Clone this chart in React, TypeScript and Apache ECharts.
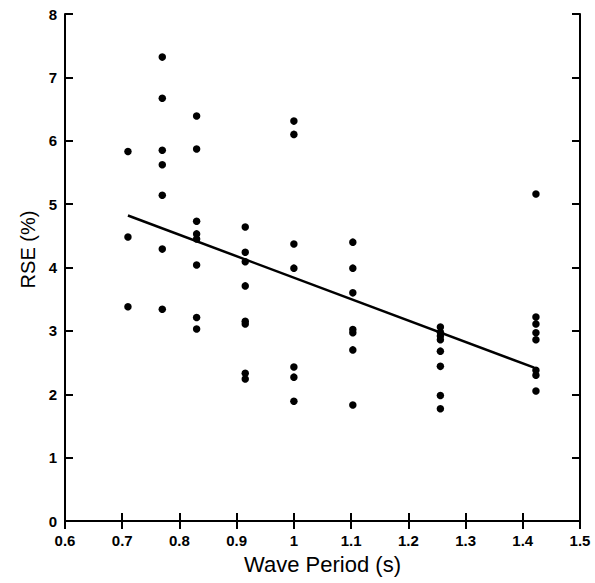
import React, { useEffect, useRef } from "react";
import * as echarts from "echarts";

const xTicks = [0.6, 0.7, 0.8, 0.9, 1, 1.1, 1.2, 1.3, 1.4, 1.5];
const pointsX = [
  0.71, 0.71, 0.71,
  0.77, 0.77, 0.77, 0.77, 0.77, 0.77, 0.77,
  0.83, 0.83, 0.83, 0.83, 0.83, 0.83, 0.83, 0.83,
  0.915, 0.915, 0.915, 0.915, 0.915, 0.915, 0.915, 0.915,
  1.0, 1.0, 1.0, 1.0, 1.0, 1.0, 1.0,
  1.103, 1.103, 1.103, 1.103, 1.103, 1.103, 1.103,
  1.256, 1.256, 1.256, 1.256, 1.256, 1.256, 1.256, 1.256,
  1.423, 1.423, 1.423, 1.423, 1.423, 1.423, 1.423, 1.423,
];
const pointsY = [
  5.83, 4.48, 3.38,
  7.32, 6.67, 5.85, 5.62, 5.14, 4.29, 3.34,
  6.39, 5.87, 4.73, 4.53, 4.45, 4.04, 3.21, 3.03,
  4.64, 4.24, 4.09, 3.71, 3.15, 3.11, 2.33, 2.24,
  6.31, 6.10, 4.37, 3.99, 2.43, 2.27, 1.89,
  4.40, 3.99, 3.60, 3.02, 2.97, 2.70, 1.83,
  3.06, 2.98, 2.92, 2.86, 2.68, 2.44, 1.98, 1.77,
  5.16, 3.22, 3.11, 2.97, 2.86, 2.38, 2.30, 2.05,
];
const fitX = [0.71, 1.42];
const fitY = [4.82, 2.42];

export default function App() {
  const ref = useRef<HTMLDivElement>(null);
  useEffect(() => {
    document.body.style.margin = "0";
    const chart = echarts.init(ref.current!, null, { renderer: "svg" });
    const font = "'Liberation Sans', Arial, sans-serif";
    const axisLine = () => ({ show: true, lineStyle: { color: "#000", width: 2 } });
    const tick = () => ({ show: true, inside: true, length: 8, lineStyle: { color: "#000", width: 2 } });
    chart.setOption({
      animation: false,
      backgroundColor: "#fff",
      grid: { left: 65, right: 15, top: 14, bottom: 62 },
      xAxis: [
        {
          type: "value",
          min: 0.6,
          max: 1.5,
          interval: 0.1,
          name: "Wave Period (s)",
          nameLocation: "middle",
          nameGap: 32,
          nameTextStyle: { fontFamily: font, fontSize: 22, color: "#000" },
          axisLine: axisLine(),
          axisTick: tick(),
          splitLine: { show: false },
          axisLabel: {
            fontFamily: font,
            fontSize: 15,
            fontWeight: "bold",
            color: "#000",
            margin: 12,
            formatter: (v: number) => {
              const t = xTicks.find((x) => Math.abs(x - v) < 1e-6);
              return t === undefined ? "" : String(t);
            },
          },
        },
        {
          type: "value",
          position: "top",
          min: 0.6,
          max: 1.5,
          interval: 0.1,
          axisLine: axisLine(),
          axisTick: tick(),
          axisLabel: { show: false },
          splitLine: { show: false },
        },
      ],
      yAxis: [
        {
          type: "value",
          min: 0,
          max: 8,
          interval: 1,
          name: "RSE (%)",
          nameLocation: "middle",
          nameGap: 22,
          nameTextStyle: { fontFamily: font, fontSize: 20, color: "#000", padding: [0, 0, 0, 36] },
          axisLine: axisLine(),
          axisTick: tick(),
          splitLine: { show: false },
          axisLabel: { fontFamily: font, fontSize: 15, fontWeight: "bold", color: "#000", margin: 8 },
        },
        {
          type: "value",
          position: "right",
          min: 0,
          max: 8,
          interval: 1,
          axisLine: axisLine(),
          axisTick: tick(),
          axisLabel: { show: false },
          splitLine: { show: false },
        },
      ],
      series: [
        {
          type: "scatter",
          data: pointsX.map((x, i) => [x, pointsY[i]]),
          symbol: "circle",
          symbolSize: 7.5,
          itemStyle: { color: "#000", opacity: 1 },
        },
        {
          type: "line",
          data: fitX.map((x, i) => [x, fitY[i]]),
          symbol: "none",
          lineStyle: { color: "#000", width: 2.5 },
        },
      ],
    });
    return () => chart.dispose();
  }, []);
  return <div ref={ref} style={{ width: 595, height: 583 }} />;
}
